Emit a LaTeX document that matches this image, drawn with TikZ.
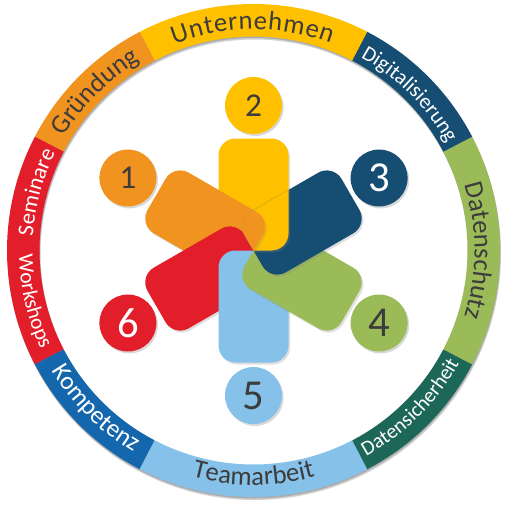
\documentclass[tikz,border=0pt]{standalone}
\usepackage{fontspec}
\setmainfont{Carlito}
\usepackage{tikz}
\usetikzlibrary{shadows,decorations.text}
\definecolor{cyellow}{HTML}{FFC000}
\definecolor{corange}{HTML}{F1931F}
\definecolor{cred}{HTML}{E31E2B}
\definecolor{cblue}{HTML}{1467AC}
\definecolor{clight}{HTML}{85C1E9}
\definecolor{cteal}{HTML}{1D6758}
\definecolor{cgreen}{HTML}{9BBB59}
\definecolor{cdark}{HTML}{164D72}
\definecolor{ctext}{HTML}{3C3C3C}

\begin{document}
\begin{tikzpicture}[x=0.75pt,y=0.75pt,yscale=-1,xscale=1,
  num/.style={circle, minimum size=42.75pt, inner sep=0pt,
    drop shadow={opacity=0.3, shadow xshift=1.2pt, shadow yshift=-1.5pt}},
  petal/.style={rounded corners=12.75pt,
    drop shadow={opacity=0.25, shadow xshift=1.2pt, shadow yshift=-1.5pt}},
  ringtext/.style={decorate, decoration={text along path, text align=center}}]
\useasboundingbox (0,0) rectangle (509,510);

% Ring
\begin{scope}[shift={(253.5,250.5)}, yscale=-1]
% shadow of the ring
\fill[black, opacity=0.18, even odd rule] (1,-3) circle[radius=246.5] (1,-3) circle[radius=214];
\fill[black, opacity=0.18, even odd rule] (0.5,-1.5) circle[radius=246.5] (0.5,-1.5) circle[radius=214];
\fill[cyellow] (62.5:246.5) arc[start angle=62.5, end angle=117.5, radius=246.5] -- (117.5:214) arc[start angle=117.5, end angle=62.5, radius=214] -- cycle;
\fill[corange] (117.5:246.5) arc[start angle=117.5, end angle=152.5, radius=246.5] -- (152.5:214) arc[start angle=152.5, end angle=117.5, radius=214] -- cycle;
\fill[cred] (152.5:246.5) arc[start angle=152.5, end angle=207.5, radius=246.5] -- (207.5:214) arc[start angle=207.5, end angle=152.5, radius=214] -- cycle;
\fill[cblue] (207.5:246.5) arc[start angle=207.5, end angle=242.5, radius=246.5] -- (242.5:214) arc[start angle=242.5, end angle=207.5, radius=214] -- cycle;
\fill[clight] (242.5:246.5) arc[start angle=242.5, end angle=297.5, radius=246.5] -- (297.5:214) arc[start angle=297.5, end angle=242.5, radius=214] -- cycle;
\fill[cteal] (297.5:246.5) arc[start angle=297.5, end angle=332.5, radius=246.5] -- (332.5:214) arc[start angle=332.5, end angle=297.5, radius=214] -- cycle;
\fill[cgreen] (-27.5:246.5) arc[start angle=-27.5, end angle=27.5, radius=246.5] -- (27.5:214) arc[start angle=27.5, end angle=-27.5, radius=214] -- cycle;
\fill[cdark] (27.5:246.5) arc[start angle=27.5, end angle=62.5, radius=246.5] -- (62.5:214) arc[start angle=62.5, end angle=27.5, radius=214] -- cycle;

% Ring texts, upper half (clockwise)
\path[ringtext, decoration={text align=fit to path, text color=ctext, text={|\fontsize{20}{24}\selectfont|Unternehmen}}]
  (111:221) arc[start angle=111, end angle=69.5, radius=221];
\path[ringtext, decoration={text color=ctext, text={|\fontsize{20}{24}\selectfont|Gründung}}]
  (160:221) arc[start angle=160, end angle=110, radius=221];
\path[ringtext, decoration={text color=white, text={|\fontsize{16}{20}\selectfont|Digitalisierung}}]
  (70:221) arc[start angle=70, end angle=20, radius=221];
\path[ringtext, decoration={text color=ctext, text={|\fontsize{20}{24}\selectfont|Datenschutz}}]
  (25:221) arc[start angle=25, end angle=-25, radius=221];
\path[ringtext, decoration={text color=white, text={|\fontsize{17}{20}\selectfont|Seminare}}]
  (190:221) arc[start angle=190, end angle=140, radius=221];

% Ring texts, lower half (counter-clockwise)
\path[ringtext, decoration={text color=white, text={|\fontsize{16}{20}\selectfont|Workshops}}]
  (168:234.5) arc[start angle=168, end angle=218, radius=234.5];
\path[ringtext, decoration={text color=white, text={|\fontsize{19}{22}\selectfont|Kompetenz}}]
  (200:234.5) arc[start angle=200, end angle=250, radius=234.5];
\path[ringtext, decoration={text color=ctext, text={|\fontsize{20}{24}\selectfont|Teamarbeit}}]
  (245:234.5) arc[start angle=245, end angle=295, radius=234.5];
\path[ringtext, decoration={text color=white, text={|\fontsize{15.5}{20}\selectfont|Datensicherheit}}]
  (290:234.5) arc[start angle=290, end angle=340, radius=234.5];
\end{scope}

% Petals
\fill[petal, fill=cyellow, shift={(253.5,250.5)}, rotate=0] (-35,0) rectangle (35,-112);
\fill[petal, fill=corange, shift={(253.5,250.5)}, rotate=300] (-35,0) rectangle (35,-112);
\fill[petal, fill=cred, shift={(253.5,250.5)}, rotate=240] (-35,0) rectangle (35,-112);
\fill[petal, fill=clight, shift={(253.5,250.5)}, rotate=180] (-35,0) rectangle (35,-112);
\fill[petal, fill=cgreen, shift={(253.5,250.5)}, rotate=120] (-35,0) rectangle (35,-112);
\fill[petal, fill=cdark, shift={(253.5,250.5)}, rotate=60] (-35,0) rectangle (35,-112);
% yellow back on top of dark blue
\begin{scope}
\clip[shift={(253.5,250.5)}, rotate=60, rounded corners=12.75pt] (-35,0) rectangle (35,-112);
\fill[petal, fill=cyellow, shift={(253.5,250.5)}, rotate=0] (-35,0) rectangle (35,-112);
\fill[petal, fill=corange, shift={(253.5,250.5)}, rotate=300] (-35,0) rectangle (35,-112);
\end{scope}

% Numbers
\node[num, fill=corange, text=ctext, font=\fontsize{25}{25}\selectfont] (n1) at (127.9,178) {1};
\node[num, fill=cyellow, text=ctext, font=\fontsize{25}{25}\selectfont] (n2) at (253.5,105.5) {2};
\node[num, fill=cdark, text=white, font=\fontsize{32}{32}\selectfont] (n3) at (379.1,178) {3};
\node[num, fill=cgreen, text=ctext, font=\fontsize{32}{32}\selectfont] (n4) at (379.1,323) {4};
\node[num, fill=clight, text=ctext, font=\fontsize{32}{32}\selectfont] (n5) at (253.5,395.5) {5};
\node[num, fill=cred, text=white, font=\fontsize{32}{32}\selectfont] (n6) at (127.9,323) {6};

\end{tikzpicture}
\end{document}
